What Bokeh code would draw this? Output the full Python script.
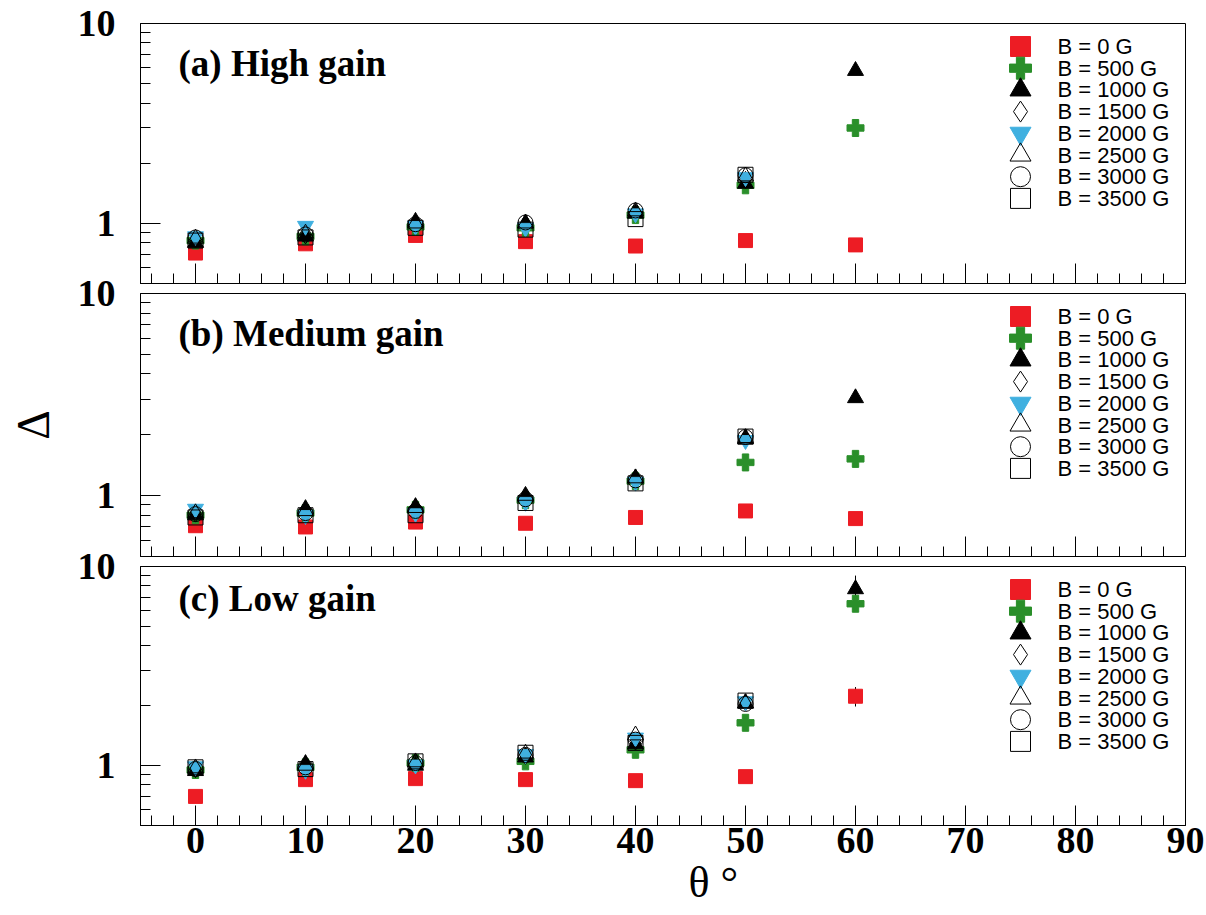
import numpy as np
from bokeh.plotting import figure
from bokeh.layouts import column
from bokeh.models import (Range1d, FixedTicker, PrintfTickFormatter, Label, Title,
                          CustomJSTickFormatter)
from bokeh.core.properties import value
from bokeh.embed import file_html
from bokeh.resources import INLINE

# ---------------- data ----------------
theta = [0, 10, 20, 30, 40, 50, 60]
series_labels = ["B = 0 G", "B = 500 G", "B = 1000 G", "B = 1500 G",
                 "B = 2000 G", "B = 2500 G", "B = 3000 G", "B = 3500 G"]
x_ticks = [0, 10, 20, 30, 40, 50, 60, 70, 80, 90]
y_ticks = [1, 10]

# (a) High gain
a_0G = [0.71, 0.79, 0.87, 0.81, 0.77, 0.82, 0.78]
a_500G = [0.82, 0.86, 0.96, 0.95, 1.10, 1.55, 3.00]
a_1000G = [0.80, 0.86, 1.02, 1.00, 1.12, 1.58, 5.80]
a_1500G = [0.83, 0.87, 0.98, 0.97, 1.14, 1.65]
a_2000G = [0.86, 0.97, 0.97, 0.95, 1.12, 1.70]
a_2500G = [0.84, 0.89, 1.00, 1.00, 1.15, 1.72]
a_3000G = [0.85, 0.88, 0.99, 1.01, 1.16, 1.74]
a_3500G = [0.82, 0.85, 0.95, 0.93, 1.05, 1.75]

# (b) Medium gain
b_0G = [0.71, 0.70, 0.74, 0.73, 0.78, 0.84, 0.77]
b_500G = [0.80, 0.82, 0.85, 0.95, 1.18, 1.46, 1.52]
b_1000G = [0.80, 0.86, 0.88, 0.99, 1.22, 1.90, 3.04]
b_1500G = [0.82, 0.83, 0.86, 0.97, 1.20, 1.92]
b_2000G = [0.86, 0.80, 0.82, 0.93, 1.17, 1.88]
b_2500G = [0.82, 0.84, 0.87, 1.00, 1.22, 1.93]
b_3000G = [0.81, 0.82, 0.84, 0.96, 1.19, 1.95]
b_3500G = [0.78, 0.80, 0.80, 0.92, 1.15, 1.96]

# (c) Low gain
c_0G = [0.70, 0.85, 0.86, 0.85, 0.84, 0.88, 2.23]
c_500G = [0.95, 0.98, 1.03, 1.05, 1.20, 1.64, 6.50]
c_1000G = [0.94, 1.02, 1.00, 1.10, 1.28, 2.05, 7.70]
c_1500G = [0.96, 0.97, 1.03, 1.12, 1.32, 2.08]
c_2000G = [0.99, 0.95, 1.01, 1.14, 1.38, 2.10]
c_2500G = [0.97, 1.00, 1.04, 1.15, 1.42, 2.06]
c_3000G = [0.96, 0.98, 1.03, 1.13, 1.35, 2.04]
c_3500G = [0.98, 0.96, 1.05, 1.16, 1.30, 2.12]

# visible statistical errors (low gain panel)
c_0G_err = [0.02, 0.02, 0.02, 0.02, 0.02, 0.03, 0.25]
c_500G_err = [0.02, 0.03, 0.03, 0.03, 0.04, 0.06, 0.55]
c_1000G_err = [0.02, 0.08, 0.03, 0.04, 0.05, 0.08, 1.30]

# ---------------- styles / layout constants ----------------
RED = "#ed1c24"
GREEN = "#2a8f2a"
CYAN = "#40b0e0"
styles = [
    dict(marker="square", fill_color=RED, line_color=RED),
    dict(marker="plus", fill_color=GREEN, line_color=GREEN),
    dict(marker="triangle", fill_color="black", line_color="black"),
    dict(marker="diamond", fill_alpha=0, line_color="black"),
    dict(marker="inverted_triangle", fill_color=CYAN, line_color=CYAN),
    dict(marker="triangle", fill_alpha=0, line_color="black"),
    dict(marker="circle", fill_alpha=0, line_color="black"),
    dict(marker="square", fill_alpha=0, line_color="black"),
]
plot_sizes = [14, 17, 16, 17, 16, 16, 15, 15]
key_sizes = [20, 22, 21, 21, 21, 21, 20, 20]

SERIF = "Liberation Serif"
SANS = "Liberation Sans"
X_LO, X_HI = -5, 90
Y_LO, Y_HI = 0.5, 10
FRAME_W = 1045
OVERLAP = 14  # canvases overlap so the top "10" labels are not cut
x_range = Range1d(X_LO, X_HI)

# legend layout (pixels inside the frame)
KEY_X_PX = 880
TEXT_X_PX = 917
ROW0_PX = 23
ROW_STEP_PX = 21.7


def px_to_x(px):
    return X_LO + px / FRAME_W * (X_HI - X_LO)


def px_to_y(px_from_top, frame_h):
    return 10 ** (np.log10(Y_HI) - px_from_top / frame_h * np.log10(Y_HI / Y_LO))


def make_panel(title, series, errors, height, top, bottom, frame_h, show_x, title_y):
    p = figure(width=1206, height=height, x_range=x_range, y_range=Range1d(Y_LO, Y_HI),
               y_axis_type="log", output_backend="svg", toolbar_location=None,
               min_border_left=140, min_border_right=21,
               min_border_top=top, min_border_bottom=bottom)
    p.xgrid.visible = False
    p.ygrid.visible = False
    p.outline_line_color = "black"
    p.outline_line_width = 1
    p.background_fill_color = "white"
    p.border_fill_color = "white"

    # x axis
    p.xaxis.ticker = FixedTicker(ticks=x_ticks,
                                 minor_ticks=[v for v in range(-4, 90, 2) if v % 10 != 0])
    p.xaxis.major_tick_in = 20
    p.xaxis.major_tick_out = 0
    p.xaxis.minor_tick_in = 10
    p.xaxis.minor_tick_out = 0
    p.xaxis.axis_line_color = "black"
    if show_x:
        p.xaxis.major_label_text_font = SERIF
        p.xaxis.major_label_text_font_style = "bold"
        p.xaxis.major_label_text_font_size = "38px"
        p.xaxis.major_label_text_color = "black"
        p.xaxis.major_label_standoff = 2
    else:
        p.xaxis.formatter = CustomJSTickFormatter(code="return ''")
        p.xaxis.major_label_text_font_size = "1px"
        p.xaxis.major_label_standoff = 0

    # y axis
    p.yaxis.ticker = FixedTicker(ticks=y_ticks,
                                 minor_ticks=[0.5, 0.6, 0.7, 0.8, 0.9, 2, 3, 4, 5, 6, 7, 8, 9])
    p.yaxis.formatter = PrintfTickFormatter(format="%d")
    p.yaxis.major_tick_in = 20
    p.yaxis.major_tick_out = 0
    p.yaxis.minor_tick_in = 10
    p.yaxis.minor_tick_out = 0
    p.yaxis.axis_line_color = "black"
    p.yaxis.major_label_text_font = SERIF
    p.yaxis.major_label_text_font_style = "bold"
    p.yaxis.major_label_text_font_size = "38px"
    p.yaxis.major_label_text_color = "black"
    p.yaxis.major_label_standoff = 25

    # error bars
    for vals, err in errors:
        v = np.array(vals)
        e = np.array(err[:len(vals)])
        p.segment(x0=theta[:len(vals)], y0=v - e, x1=theta[:len(vals)], y1=v + e,
                  line_color="black", line_width=1)

    # data points
    for vals, st, sz in zip(series, styles, plot_sizes):
        p.scatter(theta[:len(vals)], vals, size=sz, line_width=1, **st)

    # legend (ROOT-style, no box)
    for i, (lab, st, sz) in enumerate(zip(series_labels, styles, key_sizes)):
        yk = px_to_y(ROW0_PX + i * ROW_STEP_PX, frame_h)
        p.scatter([px_to_x(KEY_X_PX)], [yk], size=sz, line_width=1, **st)
        p.text([px_to_x(TEXT_X_PX)], [yk], text=[lab], text_font=value(SANS),
               text_font_size="22px", text_color="black", text_baseline="middle",
               text_align="left")

    p.add_layout(Label(x=38, y=title_y, x_units="screen", y_units="screen", text=title,
                       text_font=SERIF, text_font_style="bold", text_font_size="37px",
                       text_color="black", text_baseline="alphabetic"))
    return p


pa = make_panel("(a) High gain",
                [a_0G, a_500G, a_1000G, a_1500G, a_2000G, a_2500G, a_3000G, a_3500G],
                [], 284, 23, 1, 260, False, 220)
pb = make_panel("(b) Medium gain",
                [b_0G, b_500G, b_1000G, b_1500G, b_2000G, b_2500G, b_3000G, b_3500G],
                [], 273 + OVERLAP, 9 + OVERLAP, 1, 263, False, 223)
pc = make_panel("(c) Low gain",
                [c_0G, c_500G, c_1000G, c_1500G, c_2000G, c_2500G, c_3000G, c_3500G],
                [(c_0G, c_0G_err), (c_500G, c_500G_err), (c_1000G, c_1000G_err)],
                358 + OVERLAP, 9 + OVERLAP, 90, 259, True, 227)

# lower panels overlap the one above with a transparent border
for p in (pb, pc):
    p.border_fill_alpha = 0
    p.margin = (-OVERLAP, 0, 0, 0)

# y-axis title (rotated Delta) on middle panel
pb.yaxis.axis_label = "Δ"
pb.yaxis.axis_label_text_font = SERIF
pb.yaxis.axis_label_text_font_style = "normal"
pb.yaxis.axis_label_text_font_size = "46px"
pb.yaxis.axis_label_text_color = "black"
pb.yaxis.axis_label_standoff = 16

# x-axis title
pc.add_layout(Title(text="θ °", align="left", offset=548, standoff=0,
                    text_font=SERIF, text_font_style="normal", text_font_size="44px",
                    text_color="black"), "below")

layout = column(pa, pb, pc, spacing=0)
open("out.html", "w").write(file_html(layout, INLINE))
